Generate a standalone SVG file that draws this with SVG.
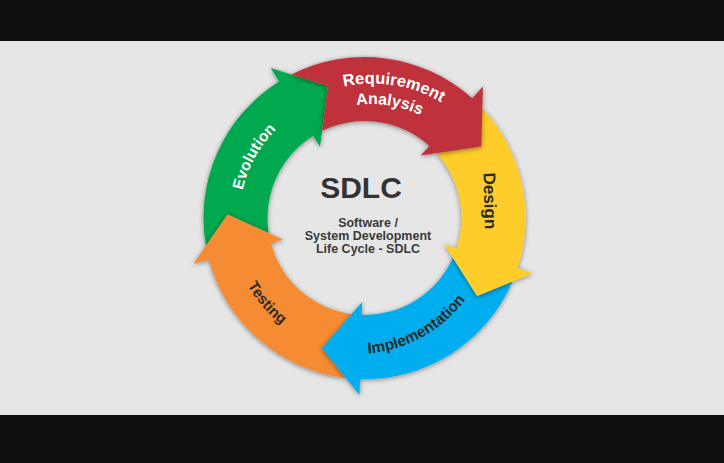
<svg xmlns="http://www.w3.org/2000/svg" xmlns:xlink="http://www.w3.org/1999/xlink" width="724" height="463" viewBox="0 0 724 463">
<defs>
<style>
.lbl{font-family:"Liberation Sans",Arial,Helvetica,sans-serif;font-weight:bold;}
.w{fill:#ffffff;}
.d{fill:#2a2a2a;}
.arrow{filter:url(#shadow);}
.ctr{font-family:"Liberation Sans",Arial,Helvetica,sans-serif;font-weight:bold;text-anchor:middle;}
</style>
<filter id="shadow" x="-20%" y="-20%" width="140%" height="140%">
<feDropShadow dx="0" dy="1" stdDeviation="2.5" flood-color="#000" flood-opacity="0.45"/>
</filter>
<path id="p-req" d="M 286.6 114.8 A 134.3 134.3 0 0 1 486.8 147.2"/>
<path id="p-ana" d="M 298.2 130.7 A 113.9 113.9 0 0 1 468.0 157.6"/>
<path id="p-des" d="M 483 150 L 485.5 252"/>
<path id="p-imp" d="M 307.8 345.0 A 136 136 0 0 0 490.0 243.9"/>
<path id="p-tes" d="M 229.8 208.6 A 135 135 0 0 0 355.1 352.7"/>
<path id="p-evo" d="M 244.3 252.5 A 125 125 0 0 1 330.0 97.8"/>
</defs>
<rect x="0" y="0" width="724" height="463" fill="#0f0f0f"/>
<rect x="0" y="41" width="724" height="374" fill="#e6e6e6"/>

<g id="node-evolution">
<path class="arrow" fill="#06a84f" d="M 205.92 245.82 A 161 161 0 0 1 279.18 81.46 L 270.70 67.90 L 327.89 85.98 L 319.99 146.76 L 313.10 135.74 A 97 97 0 0 0 268.68 233.07 L 227.55 214.41 Z"/>
<text class="lbl w" font-size="15.5"><textPath href="#p-evo" xlink:href="#p-evo" startOffset="50%" text-anchor="middle">Evolution</textPath></text>
</g>

<g id="node-testing">
<path class="arrow" fill="#f58b33" d="M 345.86 377.92 A 161 161 0 0 1 208.99 259.67 L 193.53 263.81 L 227.55 214.41 L 283.36 239.74 L 270.80 243.11 A 97 97 0 0 0 351.57 314.13 L 321.94 348.22 Z"/>
<text class="lbl d" font-size="15"><textPath href="#p-tes" xlink:href="#p-tes" startOffset="50%" text-anchor="middle">Testing</textPath></text>
</g>

<g id="node-implementation">
<path class="arrow" fill="#00aeef" d="M 512.43 281.55 A 161 161 0 0 1 360.00 378.94 L 359.56 394.93 L 321.94 348.22 L 362.15 301.97 L 361.79 314.96 A 97 97 0 0 0 452.94 257.86 L 477.13 295.99 Z"/>
<text class="lbl d" font-size="15.5"><textPath href="#p-imp" xlink:href="#p-imp" startOffset="50%" text-anchor="middle">Implementation</textPath></text>
</g>

<g id="node-design">
<path class="arrow" fill="#fecd2a" d="M 482.35 108.31 A 161 161 0 0 1 517.46 268.29 L 532.66 273.28 L 477.13 295.99 L 444.31 244.24 L 456.66 248.30 A 97 97 0 0 0 436.67 153.19 L 481.31 146.42 Z"/>
<text class="lbl d" font-size="17"><textPath href="#p-des" xlink:href="#p-des" startOffset="50%" text-anchor="middle">Design</textPath></text>
</g>

<g id="node-requirement">
<path class="arrow" fill="#c0333a" d="M 291.52 74.49 A 161 161 0 0 1 472.23 98.35 L 482.94 86.46 L 481.31 146.42 L 420.71 155.58 L 429.41 145.92 A 97 97 0 0 0 322.06 130.77 L 327.89 85.98 Z"/>
<text class="lbl w" font-size="16.5"><textPath href="#p-req" xlink:href="#p-req" startOffset="50%" text-anchor="middle">Requirement</textPath></text>
<text class="lbl w" font-size="16"><textPath href="#p-ana" xlink:href="#p-ana" startOffset="50%" text-anchor="middle">Analysis</textPath></text>
</g>

<g id="node-center">
<text class="ctr" x="361" y="198" font-size="30" fill="#333333">SDLC</text>
<text class="ctr" x="368" y="226.5" font-size="12.5" fill="#3a3a3a">Software /</text>
<text class="ctr" x="368" y="240" font-size="12.5" fill="#3a3a3a">System Development</text>
<text class="ctr" x="368" y="253" font-size="12.5" fill="#3a3a3a">Life Cycle - SDLC</text>
</g>

<g id="connectors"></g>
</svg>
